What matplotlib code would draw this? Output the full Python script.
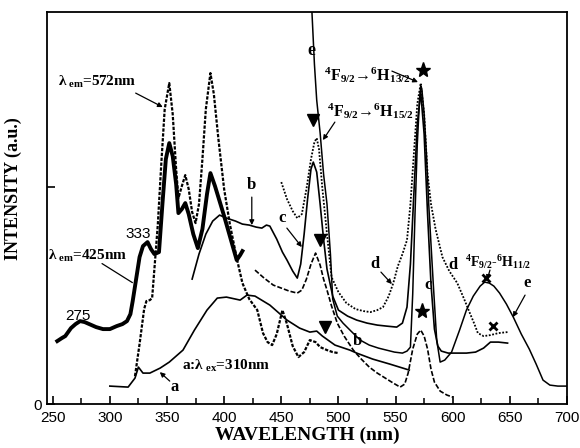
import matplotlib
matplotlib.use("Agg")
import matplotlib.pyplot as plt
from matplotlib.ticker import MultipleLocator

plt.rcParams["mathtext.fontset"] = "custom"
plt.rcParams["mathtext.rm"] = "Liberation Serif:bold"
plt.rcParams["mathtext.it"] = "Liberation Serif:bold"
plt.rcParams["mathtext.bf"] = "Liberation Serif:bold"

serif = "Liberation Serif"
sans = "Liberation Sans"

# curve a: emission, lambda_ex = 310 nm
a_wl = [300, 316, 322, 325, 329, 335, 344, 352, 364, 374, 385, 394, 402, 414, 420, 427,
        440, 455, 466, 475, 481, 486, 497, 510, 516, 530, 545, 562]
a_int = [18, 17, 26, 37, 31, 31, 36, 42, 54, 74, 94, 106, 107, 104, 109, 108,
         99, 84, 76, 72, 73, 68, 59, 54, 51, 45, 40, 34]

# excitation, lambda_em = 425 nm (thick)
ex425_wl = [254, 258, 261, 266, 270, 274, 278, 282, 288, 294, 300, 306, 311, 315, 318, 320,
            323, 326, 329, 333, 336, 339, 341, 343, 346, 349, 352, 355, 358, 360, 363, 366,
            369, 373, 377, 381, 385, 388, 392, 396, 400, 404, 408, 411, 414, 416]
ex425_int = [63, 66, 68, 76, 80, 83, 82, 80, 77, 75, 75, 78, 80, 83, 90, 103,
             125, 147, 158, 162, 155, 150, 151, 152, 200, 245, 261, 248, 220, 191, 195, 201,
             190, 170, 156, 175, 210, 231, 218, 203, 188, 172, 156, 144, 149, 153]

# excitation, lambda_em = 572 nm (dotted)
ex572_wl = [322, 326, 330, 332, 335, 337, 340, 342, 345, 348, 352, 355, 358, 360, 363, 366,
            369, 372, 375, 378, 381, 384, 388, 391, 395, 400, 405, 411, 416, 422, 429, 434,
            438, 442, 446, 451, 455, 460, 465, 470, 475, 480, 484, 490, 495, 500]
ex572_int = [28, 60, 95, 103, 104, 106, 150, 180, 240, 295, 321, 290, 235, 206, 218, 229,
             215, 192, 181, 200, 245, 295, 331, 310, 265, 215, 180, 146, 121, 105, 94, 71,
             62, 59, 70, 94, 80, 58, 47, 52, 64, 62, 57, 54, 52, 51]

# curve b
b_wl = [372, 378, 384, 390, 396, 402, 410, 416, 422, 428, 433, 437, 440, 446, 451, 455,
        460, 464, 467, 470, 473, 476, 478, 481, 484, 487, 490, 495, 500, 508, 516, 525,
        534, 542, 551, 556, 560, 563, 566, 569, 572, 575, 578, 581, 584, 587, 590, 596,
        604, 612, 620, 627, 633, 640, 648]
b_int = [125, 150, 170, 183, 189, 186, 183, 180, 179, 177, 176, 179, 178, 165, 152, 144,
         133, 126, 140, 170, 205, 235, 242, 232, 200, 165, 135, 108, 94, 88, 84, 81,
         79, 78, 77, 81, 97, 140, 210, 280, 312, 270, 190, 120, 75, 58, 53, 51,
         51, 51, 52, 56, 62, 62, 61]

# curve c
c_wl = [427, 435, 443, 450, 457, 464, 468, 472, 476, 480, 484, 487, 490, 494, 499, 505,
        513, 520, 527, 534, 541, 548, 554, 558, 561, 565, 569, 572, 575, 578, 581, 584,
        589, 595, 600]
c_int = [134, 126, 119, 116, 113, 111, 114, 125, 140, 151, 139, 125, 114, 98, 81, 68,
         54, 45, 37, 31, 26, 21, 17, 20, 31, 55, 70, 74, 68, 55, 35, 22,
         13, 9, 7]

# curve d (dotted)
d_wl = [450, 455, 460, 464, 468, 472, 476, 479, 481, 483, 486, 490, 494, 500, 507, 515,
        522, 528, 534, 539, 544, 548, 552, 556, 560, 563, 566, 569, 572, 575, 578, 581,
        585, 591, 597, 604, 610, 615, 619, 622, 627, 633, 640, 648]
d_int = [222, 205, 193, 186, 190, 215, 245, 262, 266, 255, 215, 170, 127, 112, 101, 95,
         93, 92, 94, 97, 108, 121, 138, 150, 164, 200, 250, 300, 321, 290, 230, 200,
         175, 147, 133, 121, 105, 91, 80, 71, 68, 69, 71, 72]

# curve e
e_wl = [476.5, 479, 481, 484, 487, 490, 493, 495, 499, 504, 511, 519, 527, 535, 542, 549,
        556, 560, 563, 565, 567, 569, 571, 572, 573, 575, 577, 579, 581, 583, 586, 589,
        593, 599, 606, 612, 618, 624, 628, 632, 636, 641, 647, 653, 660, 667, 673, 679,
        685, 692, 700]
e_int = [400, 340, 304, 271, 230, 200, 150, 105, 88, 81, 73, 64, 59, 56, 54, 52,
         51, 53, 57, 110, 190, 260, 305, 318, 315, 290, 250, 200, 160, 120, 64, 42,
         44, 52, 74, 94, 108, 118, 122, 121, 118, 111, 100, 87, 70, 55, 40, 24,
         19, 18, 18]

# peak markers
tri_wl = [477.6, 483.8, 488.2]
tri_int = [284, 164, 77]
star_wl = [574, 573]
star_int = [334, 93]
cross_wl = [629, 635]
cross_int = [126, 78]

fig = plt.figure(figsize=(5.8, 4.48), dpi=100)
ax = fig.add_axes([0.081, 0.098, 0.8966, 0.875])

ax.plot(a_wl, a_int, color="black", lw=1.2)
ax.plot(ex425_wl, ex425_int, color="black", lw=2.8)
ax.plot(ex572_wl, ex572_int, color="black", lw=1.6, linestyle=(0, (1.5, 0.7)))
ax.plot(b_wl, b_int, color="black", lw=1.2)
ax.plot(c_wl, c_int, color="black", lw=1.2, linestyle=(0, (3, 1.2)))
ax.plot(d_wl, d_int, color="black", lw=1.3, linestyle=(0, (1, 0.9)))
ax.plot(e_wl, e_int, color="black", lw=1.1)

ax.plot(tri_wl, tri_int, "v", color="black", ms=8, ls="none")
ax.plot(star_wl, star_int, "*", color="black", ms=11, ls="none")
ax.plot(cross_wl, cross_int, "x", color="black", ms=6, mew=2, ls="none")

ax.set_xlim(245, 700)
ax.set_ylim(0, 392)
ax.xaxis.set_major_locator(MultipleLocator(50))
ax.xaxis.set_minor_locator(MultipleLocator(25))
ax.set_yticks([0, 217])
ax.set_yticklabels(["0", ""])
ax.tick_params(direction="in", length=6, width=1.2, labelsize=11)
ax.tick_params(which="minor", direction="in", length=4, width=1.1)
ax.tick_params(axis="x", pad=5)
for lab in ax.get_xticklabels() + ax.get_yticklabels():
    lab.set_fontfamily(sans)
for s in ax.spines.values():
    s.set_linewidth(1.3)

ax.set_xlabel("WAVELENGTH (nm)", fontfamily=serif, fontweight="bold", fontsize=14, labelpad=1)
ax.set_ylabel("INTENSITY (a.u.)", fontfamily=serif, fontweight="bold", fontsize=13, labelpad=6)
ax.yaxis.set_label_coords(-0.048, 0.55)

bold = dict(fontfamily=serif, fontweight="bold", color="black")
boldarrow = dict(fontfamily=[serif, "DejaVu Serif"], fontweight="bold", color="black")
arr = dict(arrowstyle="-|>", color="black", lw=0.9, mutation_scale=7, shrinkA=0, shrinkB=0)

ax.text(254.4, 322, r"λ$_{\mathrm{\ em}}$=572nm", fontsize=11, va="center", **bold)
ax.annotate("", xy=(346.3, 297), xytext=(322.6, 311), arrowprops=arr)
ax.text(246, 148, r"λ$_{\mathrm{\ em}}$=425nm", fontsize=11, va="center", **bold)
ax.annotate("", xy=(321.8, 120), xytext=(291.1, 142), arrowprops=dict(arrowstyle="-", lw=0.9))
ax.text(324.4, 170, "333", fontsize=11, fontfamily=sans, ha="center", va="center")
ax.text(271.9, 88, "275", fontsize=11, fontfamily=sans, ha="center", va="center")
ax.text(362.9, 38, r"a:λ$_{\mathrm{\ ex}}$=310nm", fontsize=11, va="center", **bold)
ax.text(356.8, 17, "a", fontsize=12, ha="center", va="center", **bold)
ax.annotate("", xy=(343.7, 32), xytext=(352.4, 23), arrowprops=arr)

ax.text(475.9, 354, "e", fontsize=13, ha="center", va="center", **bold)
ax.text(487, 329, r"$^{4}$F$_{9/2}$→$^{6}$H$_{13/2}$", fontsize=11.5, va="center", **boldarrow)
ax.annotate("", xy=(569.6, 322), xytext=(546.8, 333), arrowprops=arr)
ax.text(490, 293, r"$^{4}$F$_{9/2}$→$^{6}$H$_{15/2}$", fontsize=11.5, va="center", **boldarrow)
ax.annotate("", xy=(486.4, 264), xytext=(496.9, 282), arrowprops=arr)

ax.text(424.2, 219, "b", fontsize=12, ha="center", va="center", **bold)
ax.annotate("", xy=(424.2, 179), xytext=(424.2, 207), arrowprops=arr)
ax.text(450.5, 186, "c", fontsize=12, ha="center", va="center", **bold)
ax.annotate("", xy=(468, 157), xytext=(454.9, 176), arrowprops=arr)
ax.text(531.9, 140, "d", fontsize=12, ha="center", va="center", **bold)
ax.annotate("", xy=(546.8, 120), xytext=(537.2, 132), arrowprops=arr)
ax.text(517, 63, "b", fontsize=12, ha="center", va="center", **bold)
ax.text(578.3, 119, "c", fontsize=12, ha="center", va="center", **bold)
ax.text(600.2, 139, "d", fontsize=12, ha="center", va="center", **bold)
ax.text(610.7, 142, r"$^{4}$F$_{9/2}$-$^{6}$H$_{11/2}$", fontsize=10, va="center", **bold)
ax.annotate("", xy=(630, 124), xytext=(632.6, 134), arrowprops=arr)
ax.text(665, 121, "e", fontsize=12, ha="center", va="center", **bold)
ax.annotate("", xy=(652.7, 87), xytext=(663.3, 109), arrowprops=arr)

fig.savefig("out.png", dpi=100)
